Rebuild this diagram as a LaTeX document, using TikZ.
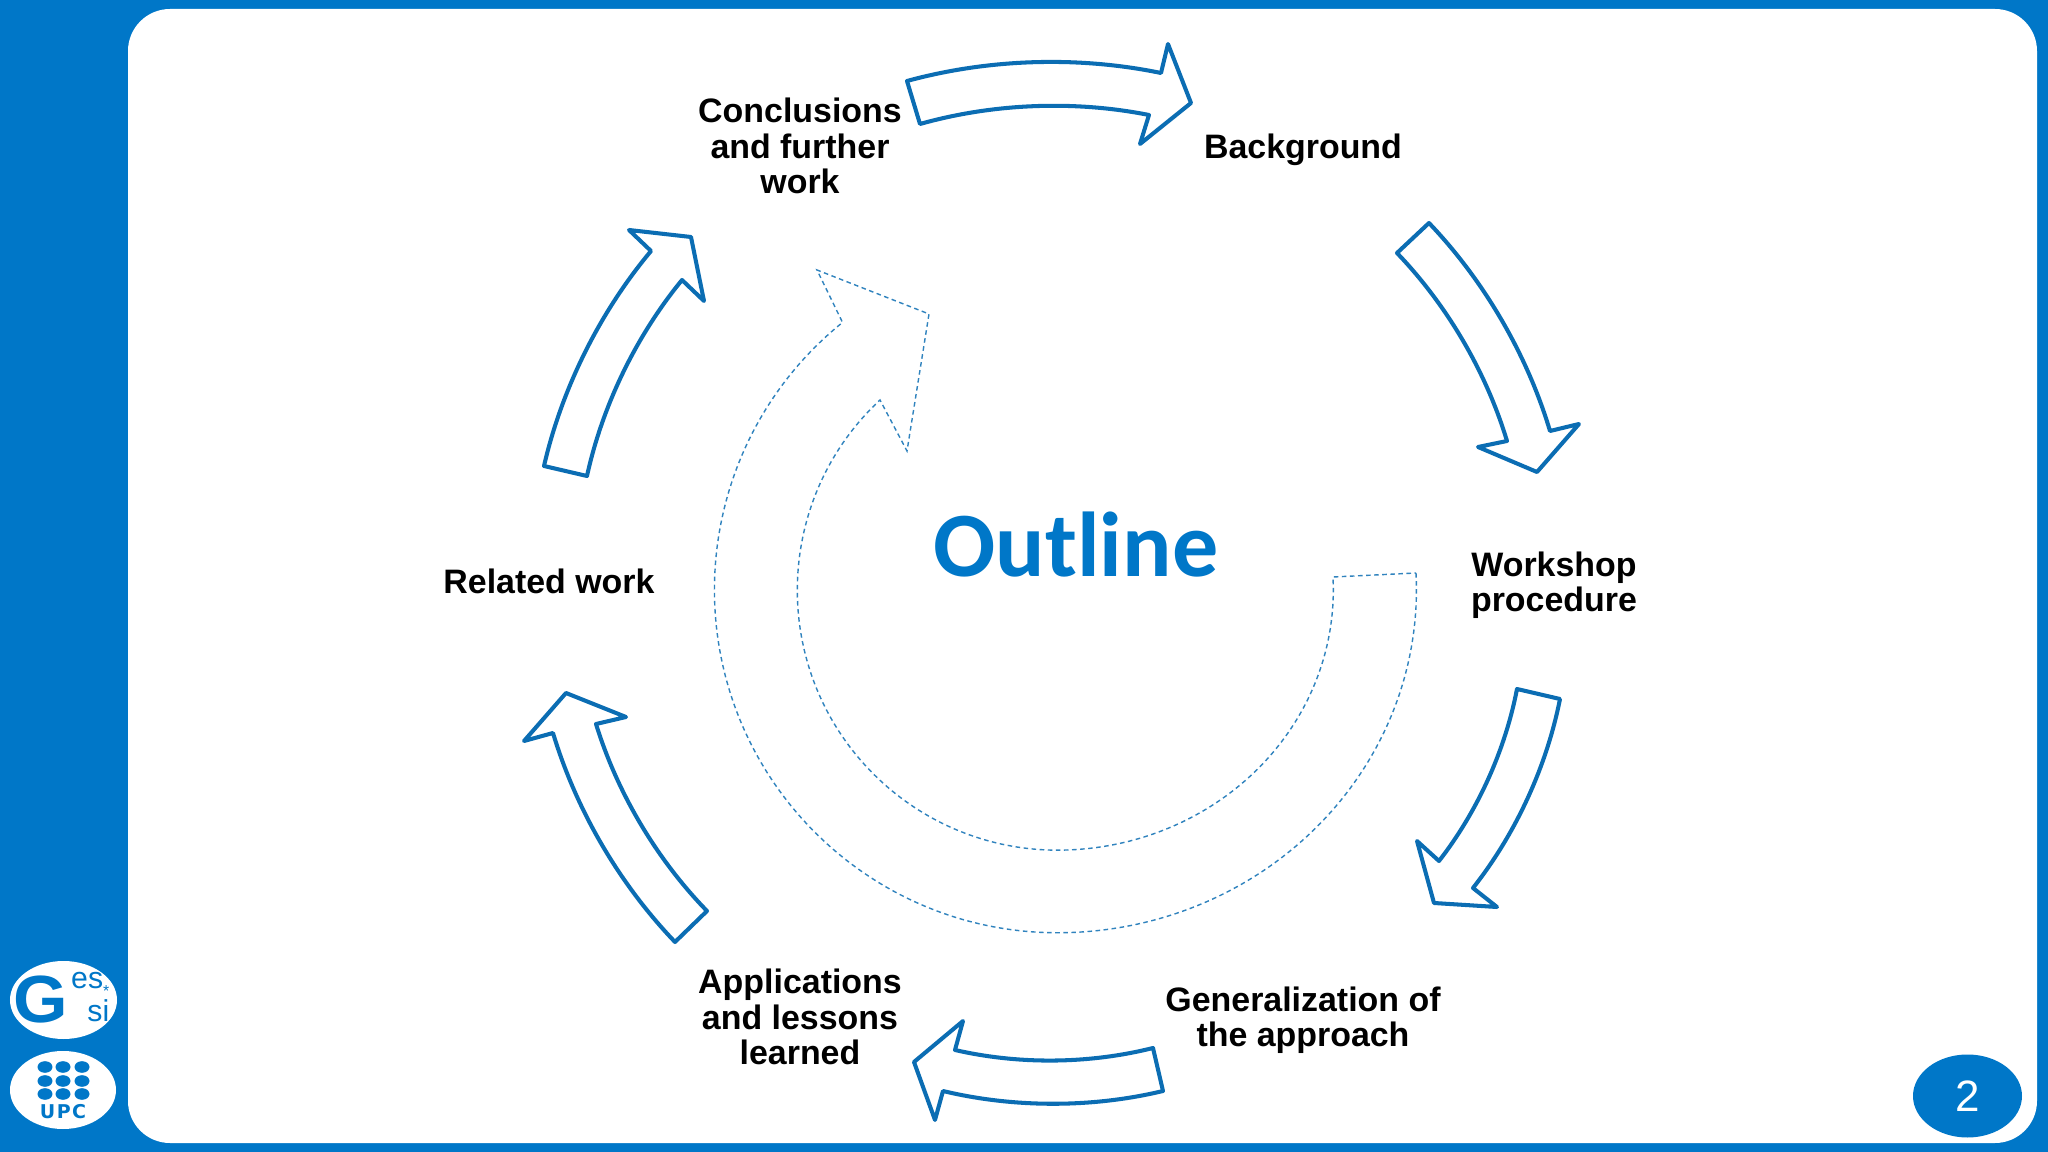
\documentclass[tikz,border=0pt]{standalone}
\usepackage{fontspec}
\usepackage{xcolor}
\usepackage{tikz}
\usetikzlibrary{positioning,shapes.geometric}
\setmainfont{Liberation Sans}
\newfontfamily\titlefont{Carlito}
\newfontfamily\logofont[LetterSpace=8]{DejaVu Sans}
\definecolor{frameblue}{HTML}{0077C8}
\definecolor{arrowblue}{HTML}{0B6DB3}

\begin{document}
\begin{tikzpicture}[
    blockarrow/.style={draw=arrowblue, line width=1.15pt, line join=round, looseness=0.85},
    ghostarrow/.style={draw=arrowblue!85, line width=0.4pt, dash pattern=on 1.3pt off 1pt},
    topic/.style={font=\fontsize{9.65}{10}\selectfont\bfseries, align=center, inner sep=0pt},
    logotext/.style={text=frameblue, inner sep=0pt}
]
    \useasboundingbox (0,0) rectangle (20.48,-11.52);

    % Slide frame
    \fill[frameblue] (0,0) rectangle (20.48,-11.52);
    \fill[white, rounded corners=0.42cm] (1.28,-0.09) rectangle (20.37,-11.43);

    % Big dashed arrow in the middle
    \draw[ghostarrow] (14.16,-5.73) arc[start angle=2.8, end angle=-90, x radius=3.59, y radius=3.43]
        arc[start angle=-90, end angle=-231.2, radius=3.43]
        -- (8.17,-2.70) -- (9.29,-3.14) -- (9.07,-4.51) -- (8.80,-4.00)
        arc[start angle=-227, end angle=-90, radius=2.6]
        arc[start angle=-90, end angle=2.9, x radius=2.76, y radius=2.6] -- cycle;

    % Ring of arrows
    \draw[blockarrow] (9.07,-0.81) to[bend left=13.5] (11.61,-0.73) -- (11.68,-0.44) -- (11.91,-1.03)
        -- (11.40,-1.44) -- (11.49,-1.15) to[bend right=13.5] (9.20,-1.24) -- cycle;
    \draw[blockarrow] (14.29,-2.23) to[bend left=13.5] (15.50,-4.31) -- (15.79,-4.24) -- (15.37,-4.72)
        -- (14.78,-4.47) -- (15.07,-4.41) to[bend right=13.5] (13.97,-2.53) -- cycle;
    \draw[blockarrow] (15.60,-6.99) to[bend left=13.5] (14.73,-8.88) -- (14.97,-9.07) -- (14.34,-9.03)
        -- (14.17,-8.41) -- (14.39,-8.61) to[bend right=13.5] (15.17,-6.89) -- cycle;
    \draw[blockarrow] (11.63,-10.91) to[bend left=13.5] (9.43,-10.91) -- (9.35,-11.20) -- (9.14,-10.62)
        -- (9.63,-10.21) -- (9.55,-10.50) to[bend right=13.5] (11.53,-10.48) -- cycle;
    \draw[blockarrow] (6.75,-9.42) to[bend left=13.5] (5.53,-7.33) -- (5.24,-7.41) -- (5.66,-6.93)
        -- (6.26,-7.17) -- (5.96,-7.24) to[bend right=13.5] (7.07,-9.11) -- cycle;
    \draw[blockarrow] (5.44,-4.66) to[bend left=13.5] (6.51,-2.51) -- (6.29,-2.30) -- (6.91,-2.37)
        -- (7.04,-3.01) -- (6.82,-2.80) to[bend right=13.5] (5.87,-4.76) -- cycle;

    % Topics
    \node[font=\titlefont\fontsize{26.2}{28}\selectfont\bfseries, text=frameblue, inner sep=0pt] (outline) at (10.76,-5.45) {Outline};
    \node[topic] (conclusions) at (8.00,-1.46) {Conclusions\\and further\\work};
    \node[topic] (background) at (13.03,-1.50) {Background};
    \node[topic] (workshop) at (15.54,-5.85) {Workshop\\procedure};
    \node[topic] (generalization) at (13.03,-10.20) {Generalization of\\the approach};
    \node[topic] (applications) at (8.00,-10.17) {Applications\\and lessons\\learned};
    \node[topic] (related) at (5.49,-5.81) {Related work};

    % Page number
    \node[ellipse, fill=frameblue, minimum width=1.09cm, minimum height=0.83cm, inner sep=0pt,
        text=white, font=\fontsize{12.5}{13}\selectfont] (page) at (19.675,-10.96) {2};

    % Logos
    \fill[white] (0.635,-10.00) ellipse[x radius=0.535, y radius=0.39];
    \fill[white] (0.63,-10.90) ellipse[x radius=0.53, y radius=0.39];
    \node[logotext, font=\fontsize{19}{19}\selectfont\bfseries, xscale=1.05, transform shape] (gesG) at (0.41,-10.00) {G};
    \node[logotext, font=\fontsize{8.6}{6.4}\selectfont, align=right, anchor=east] (gesName) at (1.10,-9.97)
        {es\raisebox{-2.2pt}{\fontsize{4.5}{4.5}\selectfont *}\\si};
    \foreach \col in {0.45,0.63,0.82}
        \foreach \row in {10.67,10.81,10.94}
            \fill[frameblue] (\col,-\row) ellipse[x radius=0.075, y radius=0.058];
    \node[logotext, font=\logofont\fontsize{5.4}{6}\selectfont\bfseries] (upc) at (0.63,-11.12) {UPC};
\end{tikzpicture}
\end{document}
